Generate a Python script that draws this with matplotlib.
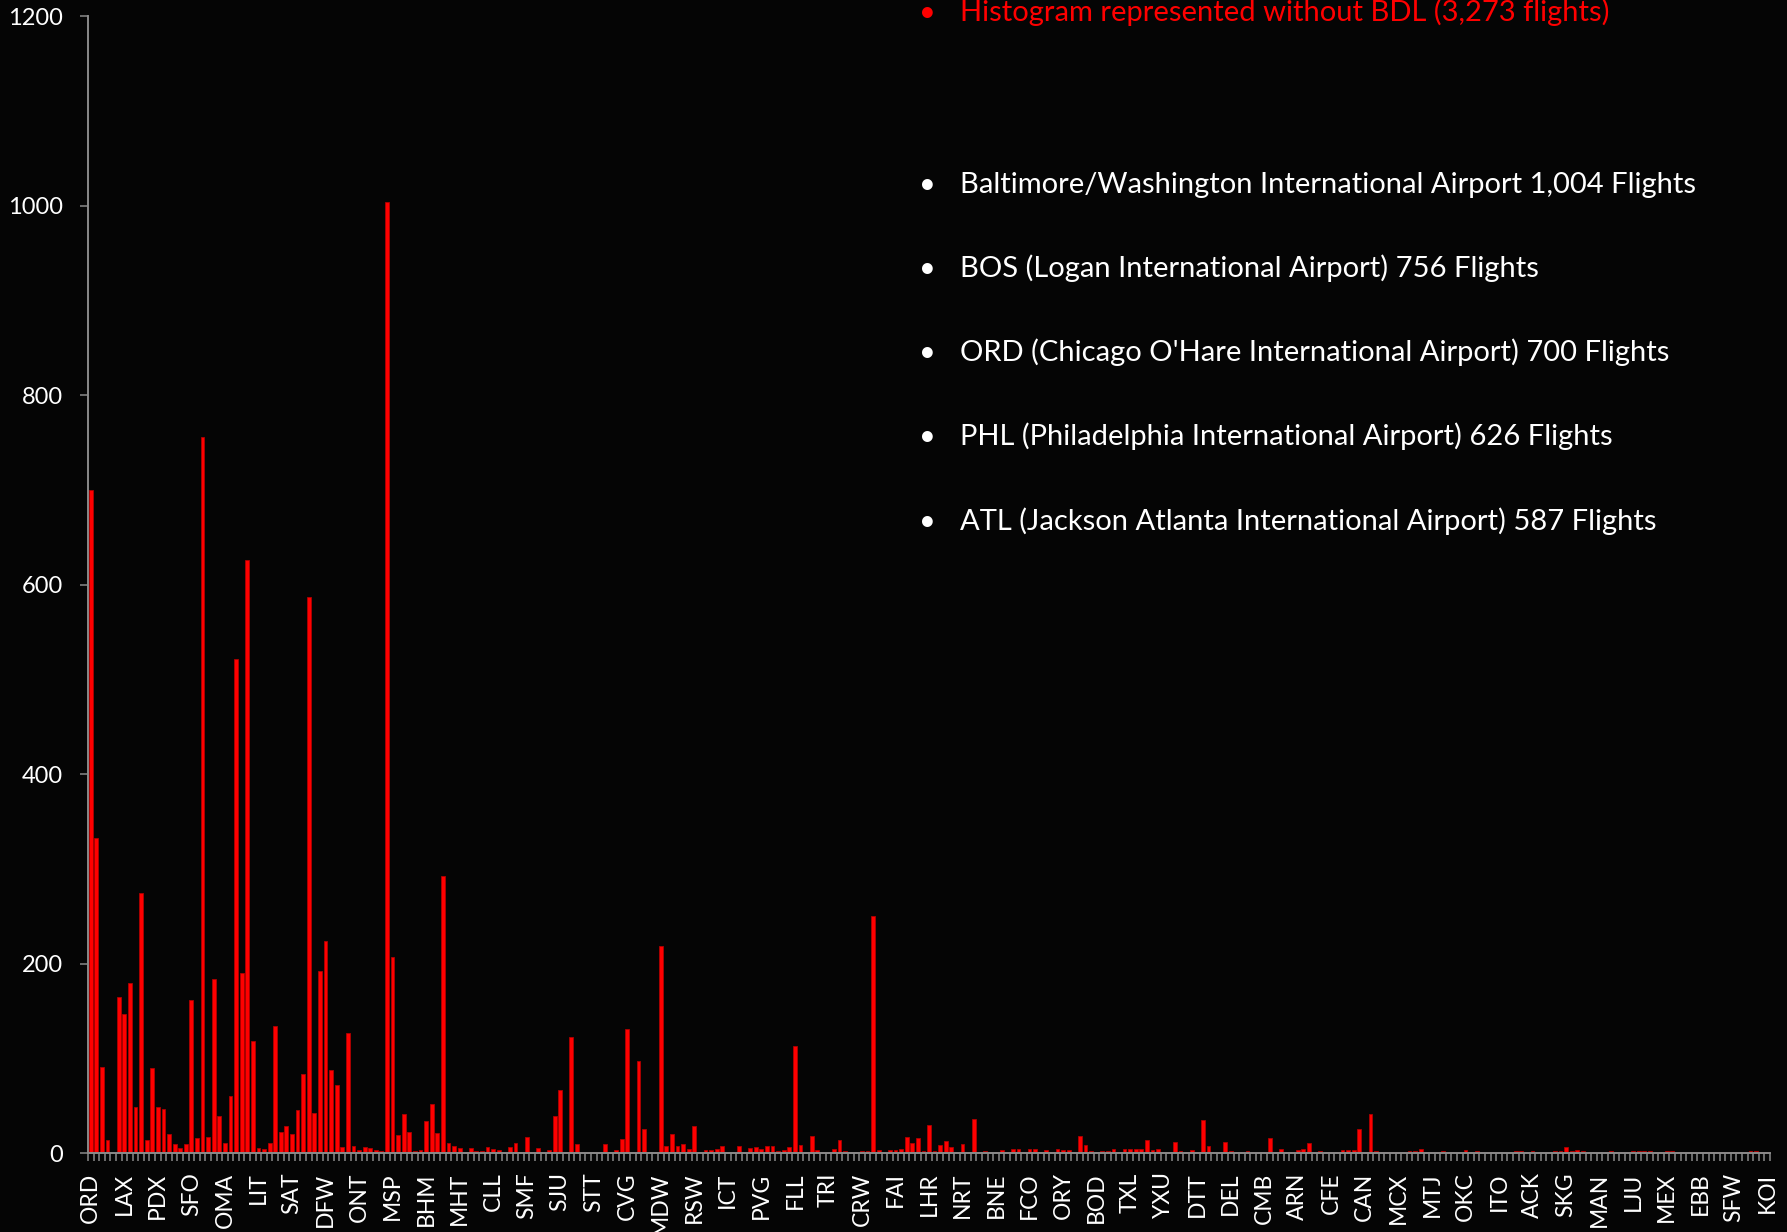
import matplotlib
matplotlib.use("Agg")
import matplotlib.pyplot as plt
import numpy as np

# ---------------- data ----------------
flights = [
    700, 333, 91, 14, 0, 165, 147, 179, 49, 274,
    14, 90, 49, 46, 20, 9, 5, 10, 162, 16,
    756, 17, 184, 39, 11, 60, 522, 190, 626, 118,
    5, 4, 11, 134, 22, 29, 20, 45, 83, 587,
    42, 192, 224, 88, 72, 6, 127, 7, 3, 6,
    5, 3, 2, 1004, 207, 19, 41, 22, 2, 3,
    34, 52, 21, 292, 11, 7, 5, 1, 5, 2,
    2, 6, 4, 3, 1, 6, 11, 1, 17, 1,
    5, 1, 3, 39, 66, 1, 122, 9, 1, 1,
    1, 1, 9, 1, 3, 15, 131, 1, 97, 25,
    1, 1, 218, 7, 20, 7, 9, 4, 28, 1,
    3, 3, 4, 7, 1, 1, 7, 1, 5, 6,
    4, 7, 7, 2, 3, 6, 113, 8, 1, 18,
    3, 1, 1, 4, 14, 2, 1, 1, 2, 2,
    250, 3, 1, 3, 3, 4, 17, 11, 16, 2,
    30, 2, 8, 13, 6, 1, 10, 1, 36, 1,
    2, 1, 1, 3, 1, 4, 4, 1, 4, 4,
    1, 3, 1, 4, 3, 3, 1, 18, 8, 2,
    1, 2, 2, 4, 1, 4, 4, 4, 4, 14,
    3, 4, 1, 1, 12, 2, 1, 3, 1, 35,
    7, 1, 1, 12, 2, 1, 1, 2, 1, 1,
    1, 16, 1, 4, 1, 1, 3, 4, 11, 1,
    2, 1, 1, 1, 3, 3, 3, 25, 1, 41,
    2, 1, 1, 1, 1, 1, 2, 2, 4, 1,
    1, 1, 2, 1, 1, 1, 3, 1, 2, 1,
    1, 1, 1, 1, 1, 2, 2, 1, 2, 1,
    1, 1, 2, 2, 6, 2, 3, 2, 1, 1,
    1, 1, 2, 1, 1, 1, 2, 2, 2, 2,
    1, 1, 2, 2, 1, 1, 1, 1, 1, 1,
    1, 1, 1, 1, 1, 1, 1, 2, 2, 1,
    1,
]

tick_labels = ["ORD", "LAX", "PDX", "SFO", "OMA", "LIT", "SAT", "DFW", "ONT", "MSP",
               "BHM", "MHT", "CLL", "SMF", "SJU", "STT", "CVG", "MDW", "RSW", "ICT",
               "PVG", "FLL", "TRI", "CRW", "FAI", "LHR", "NRT", "BNE", "FCO", "ORY",
               "BOD", "TXL", "YXU", "DTT", "DEL", "CMB", "ARN", "CFE", "CAN", "MCX",
               "MTJ", "OKC", "ITO", "ACK", "SKG", "MAN", "LJU", "MEX", "EBB", "SFW",
               "KOI"]
label_every = 6

y_ticks = [0, 200, 400, 600, 800, 1000, 1200]

header_note = "Histogram represented without BDL (3,273 flights)"
top_airports = [
    "Baltimore/Washington International Airport 1,004 Flights",
    "BOS (Logan International Airport) 756 Flights",
    "ORD (Chicago O'Hare International Airport) 700 Flights",
    "PHL (Philadelphia International Airport) 626 Flights",
    "ATL (Jackson Atlanta International Airport) 587 Flights",
]

# ---------------- style ----------------
plt.rcParams['font.family'] = ['Lato', 'DejaVu Sans']
BG = "#050505"
GRAY = "#8a8a8a"
W, H = 1787, 1232

fig = plt.figure(figsize=(W / 100, H / 100), dpi=100, facecolor=BG)
ax = fig.add_axes([88 / W, 79 / H, (1770 - 88) / W, (1153 - 16.3) / H])
ax.set_facecolor(BG)

x = np.arange(len(flights))
ax.bar(x, flights, width=0.68, color="#ff0000", edgecolor="#b00000", linewidth=0.6)

ax.set_xlim(-0.5, len(flights) - 0.5)
ax.set_ylim(0, 1200)
ax.set_yticks(y_ticks)
ax.set_yticklabels([str(v) for v in y_ticks], color="white", fontsize=17)

major_pos = np.arange(0, len(flights), label_every)[:len(tick_labels)]
ax.set_xticks(major_pos)
ax.set_xticklabels(tick_labels, rotation=90, color="white", fontsize=16.5)
ax.set_xticks(np.arange(-0.5, len(flights), 1), minor=True)

ax.tick_params(axis="x", which="major", length=0, pad=14)
ax.tick_params(axis="x", which="minor", length=6, width=1.1, color=GRAY, direction="out")
ax.tick_params(axis="y", length=6, width=1.1, color=GRAY, pad=12)

for s in ["top", "right"]:
    ax.spines[s].set_visible(False)
for s in ["left", "bottom"]:
    ax.spines[s].set_color(GRAY)
    ax.spines[s].set_linewidth(1.4)

# ---------------- annotations ----------------
def px(xp, yp):
    return xp / W, 1 - yp / H

fig.text(*px(927, 21.5), "\u2022", color="#ff0000", fontsize=21, ha="center", va="baseline")
fig.text(*px(960, 21.5), header_note, color="#ff0000", fontsize=21, ha="left", va="baseline")

baselines = [192.5, 277, 361.5, 445.5, 530]
for yb, txt in zip(baselines, top_airports):
    fig.text(*px(927, yb), "\u2022", color="white", fontsize=21, ha="center", va="baseline")
    fig.text(*px(960, yb), txt, color="white", fontsize=21, ha="left", va="baseline")

fig.savefig("out.png", dpi=100, facecolor=BG)
